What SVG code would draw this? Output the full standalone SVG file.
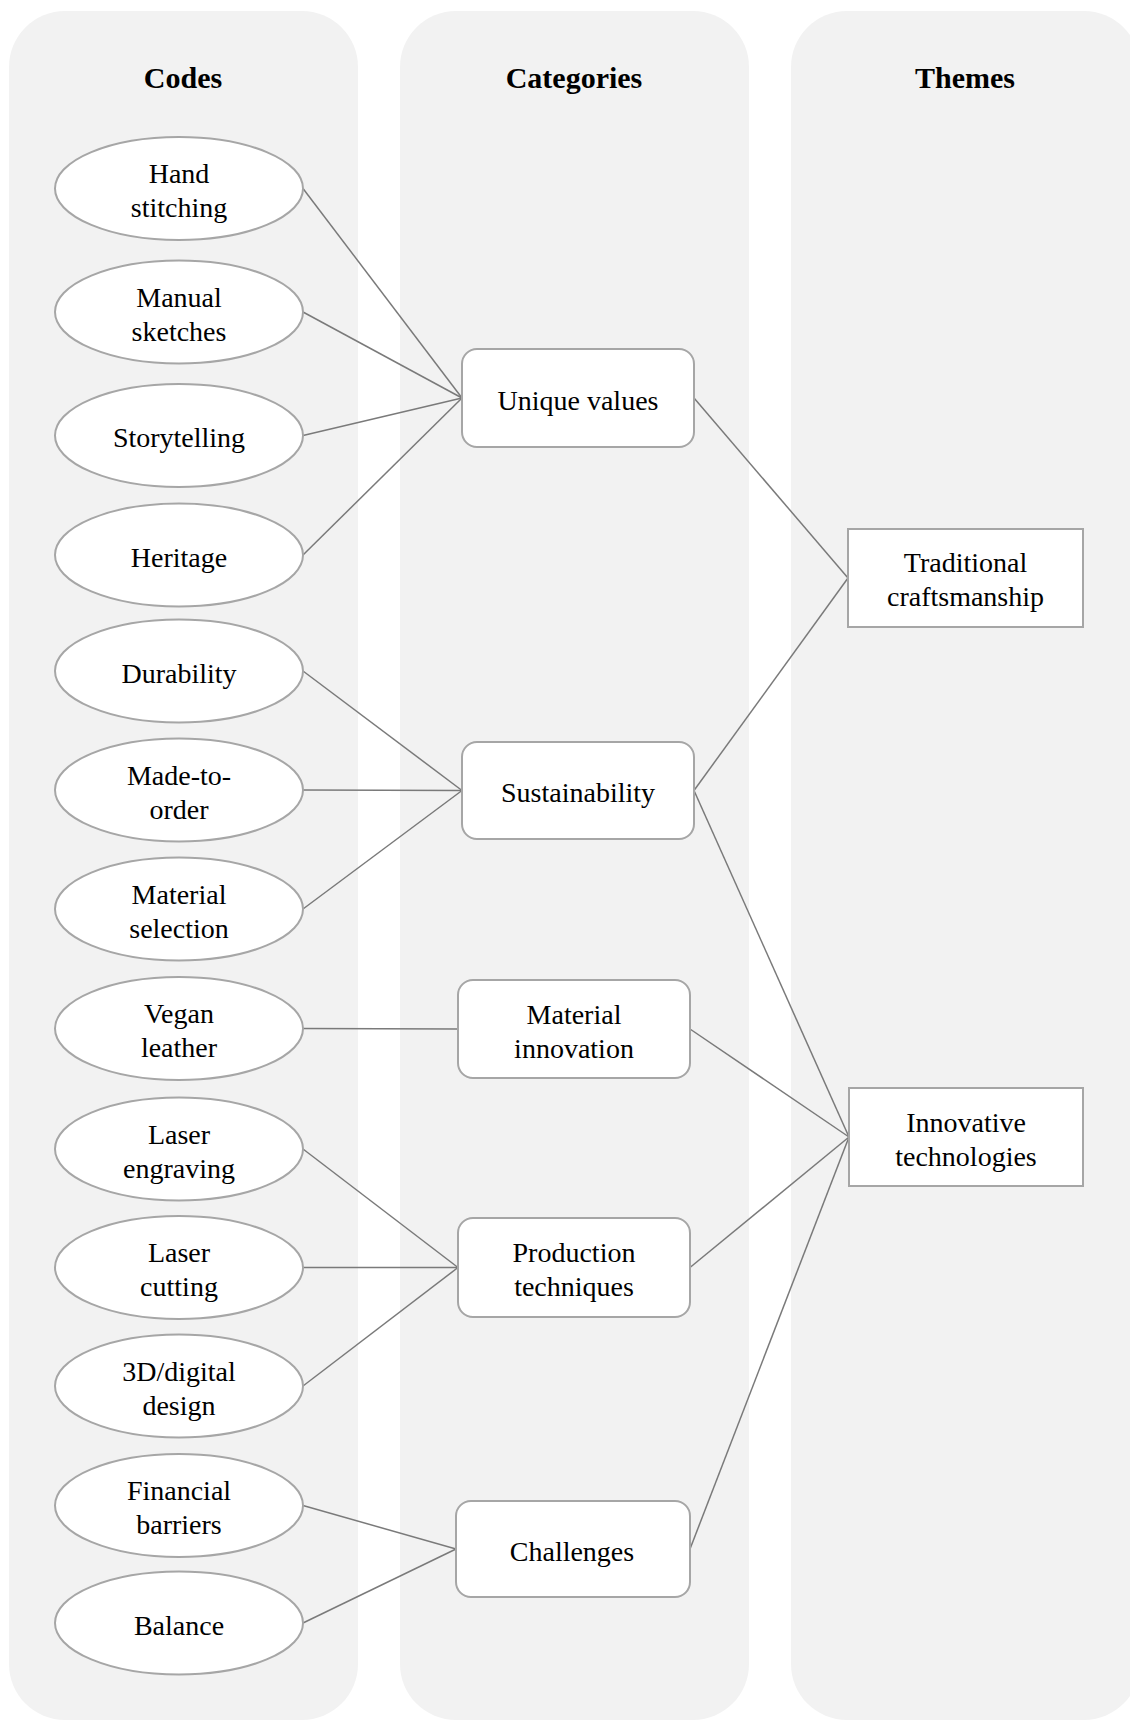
<svg xmlns="http://www.w3.org/2000/svg" width="1130" height="1720" viewBox="0 0 1130 1720">
<style>
.col{fill:#f2f2f2;stroke:none}
.hdr{font-family:"Liberation Serif","Times New Roman",serif;font-weight:bold;font-size:30px;fill:#000;text-anchor:middle}
.t{font-family:"Liberation Serif","Times New Roman",serif;font-size:28px;fill:#000;text-anchor:middle}
.code{fill:#fff;stroke:#a6a6a6;stroke-width:2}
.cat{fill:#fff;stroke:#a6a6a6;stroke-width:2}
.theme{fill:#fff;stroke:#a6a6a6;stroke-width:2}
.edge{stroke:#7a7a7a;stroke-width:1.5;fill:none}
</style>
<rect width="1130" height="1720" fill="#fff"/>
<g id="columns">
<rect class="col" x="9" y="11" width="349" height="1709" rx="56" ry="56"/>
<rect class="col" x="400" y="11" width="349" height="1709" rx="56" ry="56"/>
<rect class="col" x="791" y="11" width="349" height="1709" rx="56" ry="56"/>
<text class="hdr" x="183" y="88">Codes</text>
<text class="hdr" x="574" y="88">Categories</text>
<text class="hdr" x="965" y="88">Themes</text>
</g>
<g id="connectors">
<line class="edge" x1="303" y1="188.5" x2="462" y2="398"/>
<line class="edge" x1="303" y1="312" x2="462" y2="398"/>
<line class="edge" x1="303" y1="435.5" x2="462" y2="398"/>
<line class="edge" x1="303" y1="555" x2="462" y2="398"/>
<line class="edge" x1="303" y1="671" x2="462" y2="790.5"/>
<line class="edge" x1="303" y1="790" x2="462" y2="790.5"/>
<line class="edge" x1="303" y1="909" x2="462" y2="790.5"/>
<line class="edge" x1="303" y1="1028.5" x2="458" y2="1029"/>
<line class="edge" x1="303" y1="1149" x2="458" y2="1267.5"/>
<line class="edge" x1="303" y1="1267.5" x2="458" y2="1267.5"/>
<line class="edge" x1="303" y1="1386" x2="458" y2="1267.5"/>
<line class="edge" x1="303" y1="1505.5" x2="456" y2="1549"/>
<line class="edge" x1="303" y1="1623" x2="456" y2="1549"/>
<line class="edge" x1="694" y1="398" x2="848" y2="578"/>
<line class="edge" x1="694" y1="790.5" x2="848" y2="578"/>
<line class="edge" x1="694" y1="790.5" x2="849" y2="1137"/>
<line class="edge" x1="690" y1="1029" x2="849" y2="1137"/>
<line class="edge" x1="690" y1="1267.5" x2="849" y2="1137"/>
<line class="edge" x1="690" y1="1549" x2="849" y2="1137"/>
</g>
<g id="code-hand-stitching"><ellipse class="code" cx="179" cy="188.5" rx="124" ry="51.5"/><text class="t" x="179" y="183">Hand</text><text class="t" x="179" y="217">stitching</text></g>
<g id="code-manual-sketches"><ellipse class="code" cx="179" cy="312" rx="124" ry="51.5"/><text class="t" x="179" y="306.5">Manual</text><text class="t" x="179" y="340.5">sketches</text></g>
<g id="code-storytelling"><ellipse class="code" cx="179" cy="435.5" rx="124" ry="51.5"/><text class="t" x="179" y="447">Storytelling</text></g>
<g id="code-heritage"><ellipse class="code" cx="179" cy="555" rx="124" ry="51.5"/><text class="t" x="179" y="566.5">Heritage</text></g>
<g id="code-durability"><ellipse class="code" cx="179" cy="671" rx="124" ry="51.5"/><text class="t" x="179" y="682.5">Durability</text></g>
<g id="code-made-to-order"><ellipse class="code" cx="179" cy="790" rx="124" ry="51.5"/><text class="t" x="179" y="784.5">Made-to-</text><text class="t" x="179" y="818.5">order</text></g>
<g id="code-material-selection"><ellipse class="code" cx="179" cy="909" rx="124" ry="51.5"/><text class="t" x="179" y="903.5">Material</text><text class="t" x="179" y="937.5">selection</text></g>
<g id="code-vegan-leather"><ellipse class="code" cx="179" cy="1028.5" rx="124" ry="51.5"/><text class="t" x="179" y="1023">Vegan</text><text class="t" x="179" y="1057">leather</text></g>
<g id="code-laser-engraving"><ellipse class="code" cx="179" cy="1149" rx="124" ry="51.5"/><text class="t" x="179" y="1143.5">Laser</text><text class="t" x="179" y="1177.5">engraving</text></g>
<g id="code-laser-cutting"><ellipse class="code" cx="179" cy="1267.5" rx="124" ry="51.5"/><text class="t" x="179" y="1262">Laser</text><text class="t" x="179" y="1296">cutting</text></g>
<g id="code-3d-digital-design"><ellipse class="code" cx="179" cy="1386" rx="124" ry="51.5"/><text class="t" x="179" y="1380.5">3D/digital</text><text class="t" x="179" y="1414.5">design</text></g>
<g id="code-financial-barriers"><ellipse class="code" cx="179" cy="1505.5" rx="124" ry="51.5"/><text class="t" x="179" y="1500">Financial</text><text class="t" x="179" y="1534">barriers</text></g>
<g id="code-balance"><ellipse class="code" cx="179" cy="1623" rx="124" ry="51.5"/><text class="t" x="179" y="1634.5">Balance</text></g>
<g id="cat-unique-values"><rect class="cat" x="462" y="349" width="232" height="98" rx="15"/><text class="t" x="578" y="409.5">Unique values</text></g>
<g id="cat-sustainability"><rect class="cat" x="462" y="742" width="232" height="97" rx="15"/><text class="t" x="578" y="802">Sustainability</text></g>
<g id="cat-material-innovation"><rect class="cat" x="458" y="980" width="232" height="98" rx="15"/><text class="t" x="574" y="1023.5">Material</text><text class="t" x="574" y="1057.5">innovation</text></g>
<g id="cat-production-techniques"><rect class="cat" x="458" y="1218" width="232" height="99" rx="15"/><text class="t" x="574" y="1262">Production</text><text class="t" x="574" y="1296">techniques</text></g>
<g id="cat-challenges"><rect class="cat" x="456" y="1501" width="234" height="96" rx="15"/><text class="t" x="572" y="1560.5">Challenges</text></g>
<g id="theme-traditional-craftsmanship"><rect class="theme" x="848" y="529" width="235" height="98"/><text class="t" x="965.5" y="572">Traditional</text><text class="t" x="965.5" y="606">craftsmanship</text></g>
<g id="theme-innovative-technologies"><rect class="theme" x="849" y="1088" width="234" height="98"/><text class="t" x="966" y="1131.5">Innovative</text><text class="t" x="966" y="1165.5">technologies</text></g>
</svg>
